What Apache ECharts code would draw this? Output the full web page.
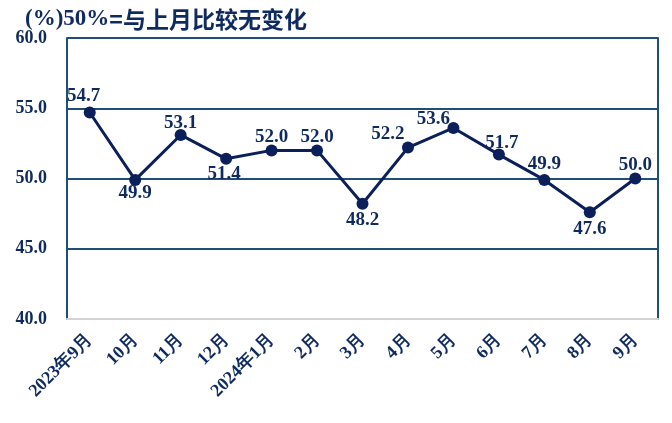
<!DOCTYPE html>
<html>
<head>
<meta charset="utf-8">
<script src="https://cdn.jsdelivr.net/npm/echarts@6/dist/echarts.min.js"></script>
<style>html,body{margin:0;padding:0;background:#fff}#c{width:672px;height:423px}</style>
</head>
<body>
<div id="c"></div>
<script>
const categories = ['2023年9月','10月','11月','12月','2024年1月','2月','3月','4月','5月','6月','7月','8月','9月'];
const values = [54.7, 49.9, 53.1, 51.4, 52.0, 52.0, 48.2, 52.2, 53.6, 51.7, 49.9, 47.6, 50.0];
const yTicks = [40, 45, 50, 55, 60];

// label placement (style only)
const labelPlace = [
  {p:'top', o:[-6,5]}, {p:'bottom', o:[0,-8]}, {p:'top', o:[0,10]}, {p:'bottom', o:[-2,-6]},
  {p:'top', o:[0,8]}, {p:'top', o:[0,8]}, {p:'bottom', o:[0,-5]}, {p:'top', o:[-20,8]},
  {p:'top', o:[-20,13]}, {p:'top', o:[3,10]}, {p:'top', o:[0,6]}, {p:'bottom', o:[0,-5]}, {p:'top', o:[0,8]}
];

const navy = '#0f2a5f';
const lineC = '#0b1f5a';
const gridC = '#1f4e79';
const serif = '"Liberation Serif","Times New Roman",serif';

const chart = echarts.init(document.getElementById('c'));
chart.setOption({
  animation: false,
  title: {
    text: '{a|(%)50%}{b|=与上月比较无变化}',
    left: 20, top: 3,
    textStyle: {
      rich: {
        a: {fontFamily: serif, fontWeight: 'bold', fontSize: 23, color: navy},
        b: {fontFamily: '"Noto Sans CJK SC",sans-serif', fontWeight: 'bold', fontSize: 23, color: navy}
      }
    }
  },
  grid: {left: 67, right: 14, top: 38, bottom: 104},
  xAxis: {
    type: 'category', data: categories, boundaryGap: true,
    axisLine: {show: true, lineStyle: {color: '#d4d4d4', width: 2}},
    axisTick: {show: false},
    axisLabel: {rotate: 45, interval: 0, margin: 18, fontFamily: serif, fontWeight: 'bold', fontSize: 18, color: navy}
  },
  yAxis: [{
    type: 'value', min: yTicks[0], max: yTicks[yTicks.length-1], interval: 5,
    axisLine: {show: true, lineStyle: {color: gridC, width: 2}},
    axisTick: {show: false},
    axisLabel: {margin: 20, fontFamily: serif, fontWeight: 'bold', fontSize: 18, color: navy,
      formatter: v => v.toFixed(1)},
    splitLine: {show: true, lineStyle: {color: gridC, width: 2}}
  }, {
    type: 'value', position: 'right', min: yTicks[0], max: yTicks[yTicks.length-1], interval: 5,
    axisLine: {show: true, lineStyle: {color: gridC, width: 2}},
    axisTick: {show: false}, axisLabel: {show: false}, splitLine: {show: false}
  }],
  series: [{
    type: 'line', data: values.map((v, i) => ({
      value: v,
      label: {position: labelPlace[i].p, offset: labelPlace[i].o}
    })),
    symbol: 'circle', symbolSize: 12,
    lineStyle: {color: lineC, width: 3},
    itemStyle: {color: lineC},
    label: {show: true, distance: 6, fontFamily: serif, fontWeight: 'bold', fontSize: 19, color: navy,
      formatter: p => p.value.toFixed(1)}
  }]
});
</script>
</body>
</html>
